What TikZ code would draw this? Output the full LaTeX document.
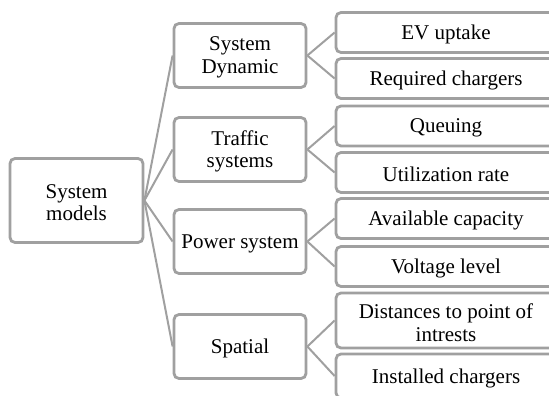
\documentclass[tikz,border=0pt]{standalone}
\usepackage{fontspec}
\setmainfont{Liberation Serif}
\definecolor{edgegray}{RGB}{160,160,160}
\begin{document}
\begin{tikzpicture}[x=1pt,y=-1pt,
  box/.style={draw=edgegray, line width=2.8pt, rounded corners=5pt, fill=white,
    inner sep=0pt, label={[boxtext]center:{#1}}},
  boxtext/.style={align=center, inner sep=0pt, yshift=-2pt,
    font=\fontsize{21}{22.5}\selectfont},
  rootbox/.style={box={#1}, minimum width=133pt, minimum height=84pt},
  midbox/.style={box={#1}, minimum width=132pt, minimum height=64pt},
  leafbox/.style={box={#1}, minimum width=220pt, minimum height=40pt},
  link/.style={draw=edgegray, line width=2pt}]
\clip (0,0) rectangle (549,396);
\fill[white] (0,0) rectangle (549,396);

% root
\node[rootbox={System\\models}] (root) at (76.5,200.5) {};

% second level
\node[midbox={System\\Dynamic}] (sd) at (240,55.5) {};
\node[midbox={Traffic\\systems}] (ts) at (240,149.5) {};
\node[midbox={Power system}] (ps) at (240,241.5) {};
\node[midbox={Spatial}] (sp) at (240,346.5) {};

% third level
\node[leafbox={EV uptake}] (ev) at (446,32.5) {};
\node[leafbox={Required chargers}] (rc) at (446,78.5) {};
\node[leafbox={Queuing}] (qu) at (446,126) {};
\node[leafbox={Utilization rate}] (ur) at (446,172.5) {};
\node[leafbox={Available capacity}] (ac) at (446,218.5) {};
\node[leafbox={Voltage level}] (vl) at (446,266.5) {};
\node[leafbox={Distances to point of\\intrests}, minimum height=55pt] (dp) at (446,320.5) {};
\node[leafbox={Installed chargers}, minimum height=44pt] (ic) at (446,376) {};

% connectors
\foreach \m in {sd,ts,ps,sp} \draw[link] (root.east) -- (\m.west);
\draw[link] (sd.east) -- (ev.west);
\draw[link] (sd.east) -- (rc.west);
\draw[link] (ts.east) -- (qu.west);
\draw[link] (ts.east) -- (ur.west);
\draw[link] (ps.east) -- (ac.west);
\draw[link] (ps.east) -- (vl.west);
\draw[link] (sp.east) -- (dp.west);
\draw[link] (sp.east) -- (ic.west);
\end{tikzpicture}
\end{document}
